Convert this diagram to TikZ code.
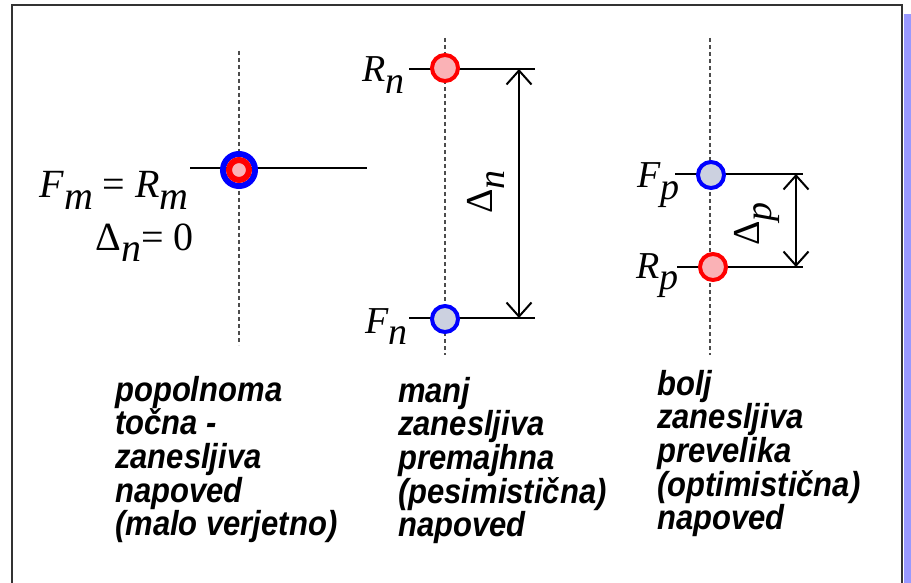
\documentclass[tikz,border=0pt]{standalone}
\usepackage{fontspec}
\setmainfont{Liberation Serif}
\setsansfont{Liberation Sans}
\usetikzlibrary{arrows.meta}
\definecolor{ringred}{RGB}{255,0,0}
\definecolor{ringblue}{RGB}{0,0,255}
\definecolor{pinkfill}{RGB}{250,178,182}
\definecolor{greyfill}{RGB}{204,209,224}
\definecolor{sidebar}{RGB}{153,153,255}
\newcommand{\symb}[2]{\textit{#1}\raisebox{-0.3em}{\textit{#2}}}

\begin{document}
\begin{tikzpicture}[x=1pt, y=-1pt,
  axis/.style={black!70, line width=1.3pt, dash pattern=on 4pt off 3pt},
  level/.style={line width=2pt},
  redpt/.style={circle, draw=ringred, fill=pinkfill, line width=4pt, minimum size=26pt, inner sep=0pt},
  bluept/.style={circle, draw=ringblue, fill=greyfill, line width=4pt, minimum size=26pt, inner sep=0pt},
  lbl/.style={font=\fontsize{38}{40}\selectfont, inner sep=0pt},
  caption/.style={font=\fontsize{31}{30}\selectfont\sffamily\bfseries\itshape, yscale=1.12, align=left, anchor=north west, inner sep=0pt},
  gap/.style={{Straight Barb[length=14pt,width=25pt]}-{Straight Barb[length=14pt,width=25pt]}, line width=2pt}]
  \useasboundingbox (0,0) rectangle (911,583);

  % Frame and side bar
  \fill[sidebar] (904,14) rectangle (911,583);
  \draw[black!80, line width=1.5pt] (12,583) -- (12,5) -- (902,5) -- (902,583);

  % Exact forecast
  \draw[axis] (239,51) -- (239,345);
  \coordinate (m-l) at (190,168);
  \coordinate (m-r) at (367,168);
  \draw[level] (m-l) -- (m-r);
  \node[circle, draw=ringblue, line width=6pt, minimum size=32pt, inner sep=0pt] (fm) at (239,170) {};
  \node[circle, draw=ringred, fill=pinkfill, line width=6pt, minimum size=20pt, inner sep=0pt] (rm) at (239,170) {};
  \node[lbl, font=\fontsize{40}{42}\selectfont, anchor=base east] (fm-lab) at (189,198) {\symb{F}{m} = \symb{R}{m}};
  \node[lbl, font=\fontsize{40}{42}\selectfont, anchor=base east] (dm-lab) at (194,250) {Δ\symb{}{n}= 0};

  % Too small forecast
  \draw[axis] (445,38) -- (445,355);
  \coordinate (rn-l) at (409,69);
  \coordinate (rn-r) at (535,69);
  \coordinate (fn-l) at (409,318);
  \coordinate (fn-r) at (535,318);
  \draw[level] (rn-l) -- (rn-r);
  \draw[level] (fn-l) -- (fn-r);
  \node[redpt] (rn) at (445,68) {};
  \node[bluept] (fn) at (445,319) {};
  \node[lbl, anchor=base east] (rn-lab) at (405,82) {\symb{R}{n}};
  \node[lbl, anchor=base east] (fn-lab) at (408,333) {\symb{F}{n}};
  \coordinate (dn-t) at (519,69);
  \coordinate (dn-b) at (519,318);
  \draw[gap] (dn-t) -- (dn-b);
  \node[lbl, rotate=90] (dn) at (486,192) {Δ\symb{}{n}};

  % Too large forecast
  \draw[axis] (710,38) -- (710,355);
  \coordinate (fp-l) at (675,174);
  \coordinate (fp-r) at (803,174);
  \coordinate (rp-l) at (677,267);
  \coordinate (rp-r) at (803,267);
  \draw[level] (fp-l) -- (fp-r);
  \draw[level] (rp-l) -- (rp-r);
  \node[bluept] (fp) at (711,175) {};
  \node[redpt] (rp) at (713,267) {};
  \node[lbl, anchor=base east] (fp-lab) at (680,188) {\symb{F}{p}};
  \node[lbl, anchor=base east] (rp-lab) at (679,278) {\symb{R}{p}};
  \coordinate (dp-t) at (796,174);
  \coordinate (dp-b) at (796,267);
  \draw[gap] (dp-t) -- (dp-b);
  \node[lbl, rotate=90] (dp) at (757,224) {Δ\symb{}{p}};

  % Captions
  \node[caption] (cap-m) at (115,376) {popolnoma\\točna -\\zanesljiva\\napoved\\(malo verjetno)};
  \node[caption] (cap-n) at (398,377) {manj\\zanesljiva\\premajhna\\(pesimistična)\\napoved};
  \node[caption] (cap-p) at (657,370) {bolj\\zanesljiva\\prevelika\\(optimistična)\\napoved};
\end{tikzpicture}
\end{document}
